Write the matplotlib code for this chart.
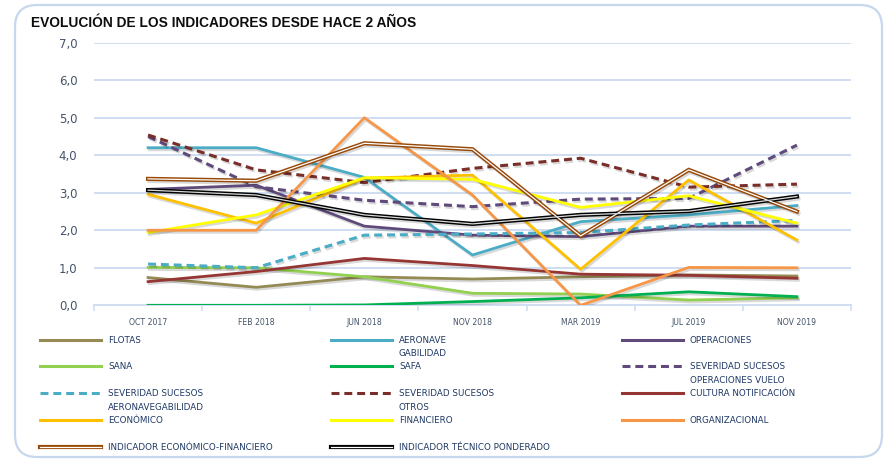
import matplotlib
matplotlib.use("Agg")
import matplotlib.pyplot as plt
import matplotlib.patheffects as pe
from matplotlib.patches import FancyBboxPatch
from matplotlib.lines import Line2D
from matplotlib.transforms import IdentityTransform
import numpy as np

# ---------------- datos ----------------
meses = ["OCT 2017", "FEB 2018", "JUN 2018", "NOV 2018", "MAR 2019", "JUL 2019", "NOV 2019"]

flotas = [0.74, 0.48, 0.76, 0.70, 0.76, 0.81, 0.78]
aeronavegabilidad = [4.20, 4.20, 3.41, 1.34, 2.23, 2.41, 2.66]
operaciones = [3.09, 3.20, 2.11, 1.87, 1.83, 2.11, 2.11]
sana = [1.01, 1.00, 0.76, 0.32, 0.30, 0.14, 0.20]
safa = [0.00, 0.00, 0.01, 0.10, 0.20, 0.36, 0.23]
sev_op_vuelo = [4.50, 3.16, 2.80, 2.63, 2.83, 2.85, 4.27]
sev_aeronav = [1.10, 1.00, 1.87, 1.90, 1.94, 2.14, 2.26]
sev_otros = [4.54, 3.61, 3.27, 3.65, 3.92, 3.15, 3.23]
cultura = [0.63, 0.90, 1.25, 1.06, 0.83, 0.80, 0.72]
economico = [2.96, 2.19, 3.39, 3.47, 0.96, 3.34, 1.74]
financiero = [1.94, 2.41, 3.40, 3.36, 2.61, 2.92, 2.19]
organizacional = [2.00, 2.00, 5.00, 2.94, 0.00, 1.01, 1.00]
ind_eco_fin = [3.37, 3.32, 4.32, 4.16, 1.85, 3.61, 2.50]
ind_tec_pond = [3.07, 2.94, 2.41, 2.17, 2.41, 2.51, 2.90]

# nombre en leyenda (con el corte de linea de la original), serie, color, estilo
series = [
    ("FLOTAS", flotas, "#948A54", "solid"),
    ("AERONAVE\nGABILIDAD", aeronavegabilidad, "#4BACC6", "solid"),
    ("OPERACIONES", operaciones, "#604A7B", "solid"),
    ("SANA", sana, "#92D050", "solid"),
    ("SAFA", safa, "#00B050", "solid"),
    ("SEVERIDAD SUCESOS\nOPERACIONES VUELO", sev_op_vuelo, "#604A7B", "dash"),
    ("SEVERIDAD SUCESOS\nAERONAVEGABILIDAD", sev_aeronav, "#4BACC6", "dash"),
    ("SEVERIDAD SUCESOS\nOTROS", sev_otros, "#7A2E2A", "dash"),
    ("CULTURA NOTIFICACIÓN", cultura, "#963634", "solid"),
    ("ECONÓMICO", economico, "#FFC000", "solid"),
    ("FINANCIERO", financiero, "#FFFF00", "solid"),
    ("ORGANIZACIONAL", organizacional, "#F79646", "solid"),
    ("INDICADOR ECONÓMICO-FINANCIERO", ind_eco_fin, "#984807", "double"),
    ("INDICADOR TÉCNICO PONDERADO", ind_tec_pond, "#000000", "double"),
]

GRID = "#D0DEF1"
TXT = "#44546A"
W, H = 887, 465

fig = plt.figure(figsize=(W / 100, H / 100), dpi=100)

# marco redondeado (en pixeles)
marco = FancyBboxPatch((15, 8), 867, 452, boxstyle="round,pad=0,rounding_size=22",
                       transform=IdentityTransform(), fill=False, ec="#C6D7EE", lw=1.6)
fig.patches.append(marco)

fig.text(31 / W, 1 - 23 / H, "EVOLUCIÓN DE LOS INDICADORES DESDE HACE 2 AÑOS",
         family=["Liberation Sans", "DejaVu Sans"], fontweight="bold",
         fontsize=9.9, va="center", ha="left", color="#0D0D0D")

ax = fig.add_axes([94 / W, 1 - 305.3 / H, (851 - 94) / W, (305.3 - 42.7) / H])
x = np.arange(len(meses))

sombra = [pe.SimpleLineShadow(offset=(1.0, -1.5), alpha=0.15), pe.Normal()]

for nombre, vals, col, estilo in series:
    if estilo == "double":
        ax.plot(x, vals, color=col, lw=3.0, solid_joinstyle="miter", zorder=3,
                path_effects=sombra)
        ax.plot(x, vals, color="white" if col != "#000000" else "#D9D9D9", lw=0.9,
                solid_joinstyle="miter", zorder=3.1)
    elif estilo == "dash":
        ax.plot(x, vals, color=col, lw=2.2, dashes=(2.6, 1.6), zorder=3,
                path_effects=sombra)
    else:
        ax.plot(x, vals, color=col, lw=2.0, zorder=3, path_effects=sombra)

ax.set_xlim(-0.5, len(meses) - 0.5)
ax.set_ylim(0, 7)
ax.set_yticks(np.arange(0, 8, 1))
ax.set_yticklabels([f"{v:.1f}".replace(".", ",") for v in range(8)],
                   fontsize=8.5, color=TXT)
ax.set_xticks(x)
ax.set_xticklabels(meses, fontsize=5.6, color=TXT)
ax.set_xticks(np.arange(-0.5, len(meses), 1), minor=True)
ax.tick_params(axis="y", length=0, pad=12)
ax.tick_params(axis="x", which="major", length=0, pad=9)
ax.tick_params(axis="x", which="minor", length=4, color=GRID, width=1.2)
ax.grid(axis="y", color=GRID, lw=1.4)
ax.set_axisbelow(True)
for s in ["top", "right", "left"]:
    ax.spines[s].set_visible(False)
ax.spines["bottom"].set_color(GRID)
ax.spines["bottom"].set_linewidth(1.4)

# leyenda manual en 3 columnas
col_x = [40, 331, 622]
fila_y = [340, 366, 393, 420, 447]
for i, (nombre, vals, col, estilo) in enumerate(series):
    cx = col_x[i % 3]
    fy = fila_y[i // 3]
    yl = 1 - fy / H
    xs = [cx / W, (cx + 61) / W]
    if estilo == "double":
        fig.add_artist(Line2D(xs, [yl, yl], color=col, lw=3.0))
        fig.add_artist(Line2D(xs, [yl, yl], color="white", lw=0.9))
    elif estilo == "dash":
        fig.add_artist(Line2D(xs, [yl, yl], color=col, lw=2.2, dashes=(2.6, 1.6)))
    else:
        fig.add_artist(Line2D(xs, [yl, yl], color=col, lw=2.2))
    for j, parte in enumerate(nombre.split("\n")):
        fig.text((cx + 68) / W, 1 - (fy + j * 14) / H, parte, fontsize=6.3,
                 color="#1F3864", va="center", ha="left")

fig.savefig("out.png", dpi=100)
